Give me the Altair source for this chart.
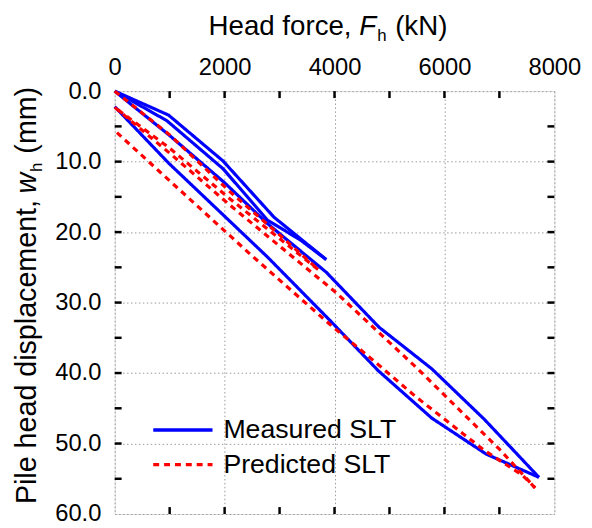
import altair as alt
import pandas as pd

# ---- data (F in kN, w in mm) ----
meas_load1_F = [0, 980, 1970, 2900, 3850]
meas_load1_w = [0.0, 3.4, 9.9, 17.9, 23.9]
meas_unload1_F = [3850, 3375, 2780, 1970, 950, 0]
meas_unload1_w = [23.9, 21.1, 18.3, 11.0, 4.2, 0.0]
meas_reload2_F = [0, 1000, 2000, 2780, 3850, 4810, 5770, 6730, 7720]
meas_reload2_w = [0.0, 6.3, 13.0, 18.8, 25.7, 33.5, 39.4, 46.6, 54.8]
meas_unload2_F = [7720, 6760, 5770, 4800, 3900, 2775, 980, 0]
meas_unload2_w = [54.8, 51.5, 46.4, 39.7, 32.4, 23.5, 10.2, 2.2]

pred_load1_F = [0, 1000, 2100, 3000, 3700]
pred_load1_w = [0.0, 6.2, 14.3, 20.4, 25.3]
pred_unload1_F = [3700, 2100, 1000, 0]
pred_unload1_w = [25.3, 15.3, 8.1, 2.3]
pred_reload2_F = [0, 1000, 2100, 4030, 5500, 7000, 7650]
pred_reload2_w = [2.3, 8.8, 16.2, 28.6, 39.3, 50.8, 56.3]
pred_unload2_F = [7650, 7420, 6730, 5470, 4630, 3975, 2475, 800, 0]
pred_unload2_w = [56.3, 54.5, 51.0, 43.3, 37.7, 33.5, 23.2, 11.3, 5.6]

legend_labels = ["Measured SLT", "Predicted SLT"]
x_tick_values = [0, 2000, 4000, 6000, 8000]
x_minor_ticks = [1000, 2000, 3000, 4000, 5000, 6000, 7000]
y_tick_values = [0, 10, 20, 30, 40, 50, 60]
y_minor_ticks = [5, 10, 15, 20, 25, 30, 35, 40, 45, 50, 55]

series = [
    ("Measured SLT", "m1", meas_load1_F, meas_load1_w),
    ("Measured SLT", "m2", meas_unload1_F, meas_unload1_w),
    ("Measured SLT", "m3", meas_reload2_F, meas_reload2_w),
    ("Measured SLT", "m4", meas_unload2_F, meas_unload2_w),
    ("Predicted SLT", "p1", pred_load1_F, pred_load1_w),
    ("Predicted SLT", "p2", pred_unload1_F, pred_unload1_w),
    ("Predicted SLT", "p3", pred_reload2_F, pred_reload2_w),
    ("Predicted SLT", "p4", pred_unload2_F, pred_unload2_w),
]
rows = []
for kind, sid, F, w in series:
    for i, (f, d) in enumerate(zip(F, w)):
        rows.append({"kind": kind, "sid": sid, "i": i, "F": f, "w": d})
df = pd.DataFrame(rows)

W, H = 445, 428
FONT = "Liberation Sans"
BLUE, RED = "#0000ff", "#ff0000"
DASH = [6, 5]

xscale = alt.Scale(domain=[0, 8000], nice=False, zero=False)
yscale = alt.Scale(domain=[0, 60], reverse=True, nice=False, zero=False)

axx = alt.Axis(orient="top", values=x_tick_values, format="d",
               title=None, ticks=False, domain=False, labelFlush=False,
               labelFontSize=24, labelFont=FONT, labelColor="black",
               labelPadding=12, grid=True, gridDash=[1.5, 2.5],
               gridColor="#999999", gridWidth=1)
axy = alt.Axis(orient="left", values=y_tick_values, format=".1f",
               title=None, ticks=False, domain=False, labelFlush=False,
               labelFontSize=24, labelFont=FONT, labelColor="black",
               labelPadding=14, grid=True, gridDash=[1.5, 2.5],
               gridColor="#999999", gridWidth=1)

lines = alt.Chart(df).mark_line(strokeWidth=3.2, strokeCap="butt").encode(
    x=alt.X("F:Q", scale=xscale, axis=axx),
    y=alt.Y("w:Q", scale=yscale, axis=axy),
    color=alt.Color("kind:N", scale=alt.Scale(domain=legend_labels,
                                              range=[BLUE, RED]),
                    legend=None),
    strokeDash=alt.StrokeDash("kind:N", scale=alt.Scale(domain=legend_labels,
                                                        range=[[1, 0], DASH]),
                              legend=None),
    detail="sid:N",
    order="i:Q",
)

xt = pd.DataFrame({"F": x_minor_ticks})
yt = pd.DataFrame({"w": y_minor_ticks})
tick_style = dict(color="black", strokeWidth=2.5)
top_ticks = alt.Chart(xt).mark_rule(**tick_style).encode(
    x=alt.X("F:Q", scale=xscale, axis=axx), y=alt.value(0), y2=alt.value(7))
bot_ticks = alt.Chart(xt).mark_rule(**tick_style).encode(
    x=alt.X("F:Q", scale=xscale, axis=axx), y=alt.value(H - 7), y2=alt.value(H))
left_ticks = alt.Chart(yt).mark_rule(**tick_style).encode(
    y=alt.Y("w:Q", scale=yscale, axis=axy), x=alt.value(0), x2=alt.value(7))
right_ticks = alt.Chart(yt).mark_rule(**tick_style).encode(
    y=alt.Y("w:Q", scale=yscale, axis=axy), x=alt.value(W - 7), x2=alt.value(W))

one = alt.Data(values=[{"a": 1}])


def txt(s, x, y, size, style="normal", angle=0, baseline="alphabetic"):
    return alt.Chart(one).mark_text(
        text=s, font=FONT, fontSize=size, fontStyle=style, color="black",
        align="left", baseline=baseline, angle=angle,
    ).encode(x=alt.value(x), y=alt.value(y))


# x title: Head force, F_h (kN)
TX, SX = 28, 17
x0, yb = 95, -57
w1 = 5.447 * TX
w2 = 0.611 * TX
w3 = 0.556 * SX
xt1 = txt("Head force,", x0, yb, TX)
xt2 = txt("F", x0 + w1, yb, TX, style="italic")
xt3 = txt("h", x0 + w1 + w2 + 1, yb + 6, SX)
xt4 = txt("(kN)", x0 + w1 + w2 + w3 + 2 + 0.278 * TX, yb, TX)

# y title: Pile head displacement, w_h (mm)  (rotated, reading upward)
TY, SY = 29, 17
bx = -80
y0 = 417 - 81 + 82
v1 = 10.838 * TY
v2 = 0.722 * TY
v3 = 0.556 * SY
yt1 = txt("Pile head displacement,", bx, y0, TY, angle=270)
yt2 = txt("w", bx, y0 - v1, TY, style="italic", angle=270)
yt3 = txt("h", bx + 6, y0 - v1 - v2 - 1, SY, angle=270)
yt4 = txt("(mm)", bx, y0 - v1 - v2 - v3 - 2 - 0.278 * TY, TY, angle=270)

# legend (drawn by hand, inside the plot, lower left)
lg_x0, lg_x1, lg_tx = 39, 99, 110
lg_y = [343, 378]
leg_m_line = alt.Chart(one).mark_rule(color=BLUE, strokeWidth=3.5).encode(
    x=alt.value(lg_x0), x2=alt.value(lg_x1), y=alt.value(lg_y[0]))
leg_p_line = alt.Chart(one).mark_rule(color=RED, strokeWidth=3.2,
                                      strokeDash=DASH).encode(
    x=alt.value(lg_x0), x2=alt.value(lg_x1), y=alt.value(lg_y[1]))
leg_m_txt = txt(legend_labels[0], lg_tx, lg_y[0], 27, baseline="middle")
leg_p_txt = txt(legend_labels[1], lg_tx, lg_y[1], 27, baseline="middle")

chart = alt.layer(
    lines, top_ticks, bot_ticks, left_ticks, right_ticks,
    xt1, xt2, xt3, xt4, yt1, yt2, yt3, yt4,
    leg_m_line, leg_p_line, leg_m_txt, leg_p_txt,
).properties(
    width=W, height=H,
    autosize=alt.AutoSizeParams(type="none"),
    padding={"left": 108, "top": 81, "right": 30, "bottom": 10},
).configure_view(
    stroke="black", strokeWidth=3,
).configure(background="white")

chart.save("out.html", embed_options={"renderer": "svg", "actions": False})
